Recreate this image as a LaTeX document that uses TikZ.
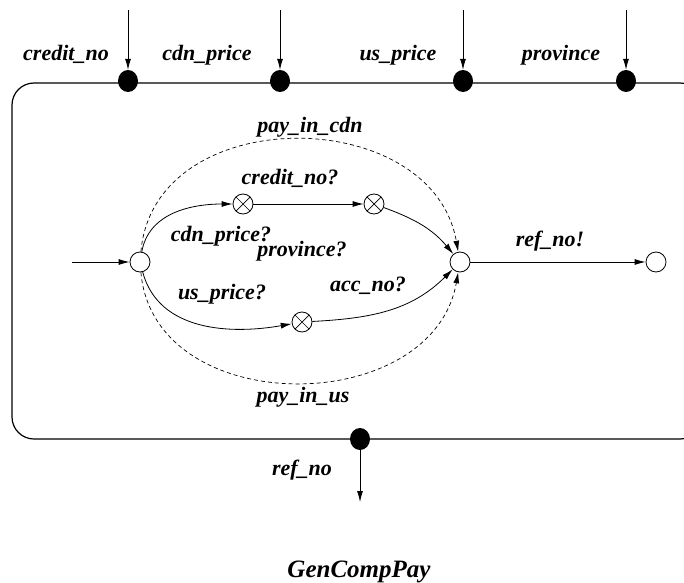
\documentclass[tikz,border=0pt]{standalone}
\usepackage{fontspec}
\setmainfont{Liberation Serif}
\usetikzlibrary{arrows.meta,shapes.geometric}
\begin{document}
\begin{tikzpicture}[x=1pt,y=1pt,
  lbl/.style={font=\fontsize{22}{22}\selectfont\bfseries\itshape, inner sep=0pt, anchor=base},
  st/.style={circle, draw, line width=0.8pt, minimum size=20pt, inner sep=0pt, fill=white},
  xst/.style={circle, draw, line width=0.8pt, minimum size=20pt, inner sep=0pt, fill=white,
    path picture={\draw[line width=0.7pt] (path picture bounding box.north west) -- (path picture bounding box.south east)
      (path picture bounding box.north east) -- (path picture bounding box.south west);}},
  port/.style={ellipse, fill=black, minimum width=20pt, minimum height=22pt, inner sep=0pt},
  arr/.style={-{Latex[length=11pt,width=6pt]}, line width=0.8pt},
  darr/.style={-{Latex[length=11pt,width=6pt]}, line width=0.7pt, dash pattern=on 4pt off 3pt},
]
\useasboundingbox (0,0) rectangle (684,582);
% box
\draw[line width=1.2pt, rounded corners=22pt] (12,499) -- (702,499) -- (702,143) -- (12,143) -- cycle;
% input ports
\foreach \n/\x in {p1/128,p2/280,p3/463,p4/626}{
  \node[port] (\n) at (\x,501) {};
  \coordinate (\n t) at (\x,572);
  \draw[arr] (\n t) -- (\n.north);
}
\node[lbl] at (66,521) {credit\_no};
\node[lbl] at (207,521) {cdn\_price};
\node[lbl] at (398,521) {us\_price};
\node[lbl] at (561,521) {province};
% output port
\node[port] (po) at (360,143) {};
\coordinate (pot) at (360,80);
\draw[arr] (po.south) -- (pot);
\node[lbl] at (302,107) {ref\_no};
\node[lbl, font=\fontsize{25}{25}\selectfont\bfseries\itshape] at (359,5) {GenCompPay};
% states
\node[st] (I) at (140,320) {};
\node[xst] (X1) at (243,378) {};
\node[xst] (X2) at (374,378) {};
\node[xst] (X3) at (302,260) {};
\node[st] (J) at (460,320) {};
\node[st] (F) at (656,320) {};
\coordinate (S) at (72,320);
\draw[arr] (S) -- (I);
\draw[arr] (I) to[out=80,in=180] (X1);
\draw[arr] (X1) -- (X2);
\draw[arr] (X2) to[out=-20,in=130] (J);
\draw[arr] (I) to[out=-75,in=190] (X3);
\draw[arr] (X3) to[out=3,in=225] (J);
\draw[arr] (J) -- (F);
\draw[darr] (I) to[out=85,in=100,looseness=1.22] (J);
\draw[darr] (I) to[out=-85,in=-100,looseness=1.2] (J);
% labels
\node[lbl] at (310,449) {pay\_in\_cdn};
\node[lbl] at (303,180) {pay\_in\_us};
\node[lbl] at (290,398) {credit\_no?};
\node[lbl] at (221,341) {cdn\_price?};
\node[lbl] at (302,326) {province?};
\node[lbl] at (222,283) {us\_price?};
\node[lbl] at (368,291) {acc\_no?};
\node[lbl] at (550,336) {ref\_no!};
\end{tikzpicture}
\end{document}
